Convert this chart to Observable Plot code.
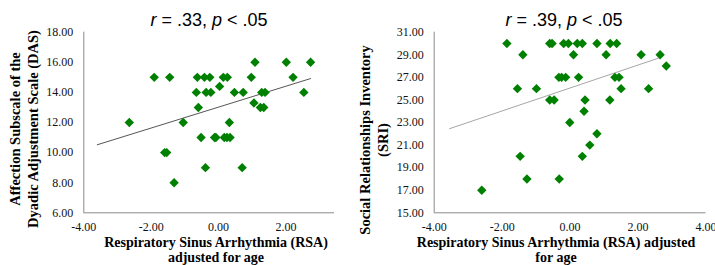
<!DOCTYPE html>
<html><head><meta charset="utf-8">
<script src="https://cdn.jsdelivr.net/npm/d3@7"></script>
<script src="https://cdn.jsdelivr.net/npm/@observablehq/plot@0.6"></script>
<style>
body{margin:0;background:#fff}
#wrap{display:flex;width:715px;height:265px;overflow:hidden;background:#fff}
</style>
</head><body><div id="wrap"></div>
<script>
// ---- tick values ----
const dasXTicks = [-4, -2, 0, 2];
const dasYTicks = [6, 8, 10, 12, 14, 16, 18];
const sriXTicks = [-4, -2, 0, 2, 4];
const sriYTicks = [15, 17, 19, 21, 23, 25, 27, 29, 31];

// ---- left panel: DAS affection subscale vs RSA ----
const dasRSA = [
  -1.91, -1.45, -0.63, -0.42, -0.26, 0.14, 0.26, 0.97, 2.21,
  1.08, 2.01, 2.73,
  0.03,
  -0.66, -0.37, -0.23, 0.47, 0.73, 1.28, 1.38, 2.53,
  1.05,
  -0.60, 1.24, 1.34,
  -2.65, -1.05, 0.32,
  -0.52, -0.12, -0.08, 0.17, 0.25, 0.34,
  -1.60, -1.54,
  -0.39, 0.70,
  -1.32
];
const dasScore = [
  15, 15, 15, 15, 15, 15, 15, 15, 15,
  16, 16, 16,
  14.4,
  14, 14, 14, 14, 14, 14, 14, 14,
  13.3,
  13, 13, 13,
  12, 12, 12,
  11, 11, 11, 11, 11, 11,
  10, 10,
  9, 9,
  8
];
const dasTrendRSA = [-3.6, 2.73];
const dasTrendScore = [10.52, 14.92];

// ---- right panel: SRI vs RSA ----
const sriRSA = [
  -1.86, -0.60, -0.53, -0.19, -0.05, 0.21, 0.36, 0.79, 1.18, 1.37,
  -1.39, 0.10, 1.06, 2.09, 2.65,
  2.83,
  -0.33, -0.25, -0.13, 0.25, 1.32, 1.44,
  -1.55, -0.99, 1.50, 2.31,
  -0.60, -0.47, 0.44, 1.17,
  0.41,
  -0.01,
  0.79,
  0.58,
  -1.47, 0.36,
  -1.27, -0.32,
  -2.60
];
const sriScore = [
  30, 30, 30, 30, 30, 30, 30, 30, 30, 30,
  29, 29, 29, 29, 29,
  28,
  27, 27, 27, 27, 27, 27,
  26, 26, 26, 26,
  25, 25, 25, 25,
  24,
  23,
  22,
  21,
  20, 20,
  18, 18,
  17
];
const sriTrendRSA = [-3.55, 2.6];
const sriTrendScore = [22.45, 28.7];

// ---- helpers ----
const diamond = {
  draw(ctx, size) {
    const h = Math.sqrt(size / Math.PI);
    ctx.moveTo(0, -h); ctx.lineTo(h, 0); ctx.lineTo(0, h); ctx.lineTo(-h, 0); ctx.closePath();
  }
};
const fmt = d => d.toFixed(2);

function panel(cfg) {
  const pts = cfg.xs.map((x, i) => ({x, y: cfg.ys[i]}));
  const trend = cfg.tx.map((x, i) => ({x, y: cfg.ty[i]}));
  const svg = Plot.plot({
    width: cfg.width, height: 265,
    marginLeft: cfg.ml, marginRight: cfg.mr, marginTop: 31.7, marginBottom: 52.7,
    style: {fontFamily: "Liberation Serif", fontSize: "12px", color: "#000", background: "#fff"},
    x: {domain: cfg.xDomain, ticks: cfg.xTicks, tickFormat: fmt, tickSize: 0, tickPadding: 10, label: null},
    y: {domain: cfg.yDomain, ticks: cfg.yTicks, tickFormat: fmt, tickSize: 0, tickPadding: 10.5, label: null},
    marks: [
      Plot.ruleY([cfg.yDomain[0]], {stroke: "#8a8a8a", strokeWidth: 1}),
      Plot.ruleX([cfg.xDomain[0]], {stroke: "#8a8a8a", strokeWidth: 1}),
      Plot.line(trend, {x: "x", y: "y", stroke: cfg.trendColor, strokeWidth: 1}),
      Plot.dot(pts, {x: "x", y: "y", symbol: diamond, r: 4.7, fill: "#008000", stroke: "none"})
    ]
  });
  const s = d3.select(svg);
  // force serif tick labels
  s.selectAll("text").attr("font-family", "Liberation Serif").style("font-family", "Liberation Serif")
    .attr("font-size", 12).style("font-size", "12px").attr("fill", "#111");
  s.selectAll("g").attr("font-family", "Liberation Serif").attr("font-size", 12);
  // title with italic r and p
  const t = s.append("text").attr("x", cfg.titleX).attr("y", 26).attr("text-anchor", "middle")
    .attr("font-family", "Liberation Sans").style("font-family", "Liberation Sans")
    .attr("font-size", 18).style("font-size", "18px").attr("fill", "#000")
    .style("white-space", "pre");
  t.append("tspan").attr("font-style", "italic").text("r");
  t.append("tspan").text(" = " + cfg.rText + ", ");
  t.append("tspan").attr("font-style", "italic").text("p");
  t.append("tspan").text(" < .05");
  // x axis title
  cfg.xTitle.forEach((line, i) => {
    s.append("text").attr("x", cfg.xTitleX).attr("y", 246.6 + i * 15.4).attr("text-anchor", "middle")
      .attr("font-family", "Liberation Serif").style("font-family", "Liberation Serif")
      .attr("font-weight", "bold").attr("font-size", 14).style("font-size", "14px")
      .attr("fill", "#000").text(line);
  });
  // y axis title
  cfg.yTitle.forEach((line, i) => {
    const x = cfg.yTitleX[i], y = cfg.yTitleY;
    s.append("text").attr("transform", `translate(${x},${y}) rotate(-90)`).attr("text-anchor", "middle")
      .attr("font-family", "Liberation Serif").style("font-family", "Liberation Serif")
      .attr("font-weight", "bold").attr("font-size", 14.5).style("font-size", "14.5px")
      .attr("fill", "#000").text(line);
  });
  return svg;
}

const wrap = document.getElementById("wrap");
wrap.appendChild(panel({
  width: 357, ml: 83.3, mr: 23,
  xs: dasRSA, ys: dasScore, tx: dasTrendRSA, ty: dasTrendScore,
  xDomain: [-4, 3.44], yDomain: [6, 18], xTicks: dasXTicks, yTicks: dasYTicks,
  trendColor: "#555", rText: ".33", titleX: 209,
  xTitle: ["Respiratory Sinus Arrhythmia (RSA)", "adjusted for age"], xTitleX: 216,
  yTitle: ["Affection Subscale of the", "Dyadic Adjustment Scale (DAS)"], yTitleX: [20, 38], yTitleY: 129
}));
wrap.appendChild(panel({
  width: 358, ml: 76.7, mr: 9.5,
  xs: sriRSA, ys: sriScore, tx: sriTrendRSA, ty: sriTrendScore,
  xDomain: [-4, 4], yDomain: [15, 31], xTicks: sriXTicks, yTicks: sriYTicks,
  trendColor: "#a6a6a6", rText: ".39", titleX: 207,
  xTitle: ["Respiratory Sinus Arrhythmia (RSA) adjusted", "for age"], xTitleX: 199,
  yTitle: ["Social Relationships Inventory", "(SRI)"], yTitleX: [13, 31], yTitleY: 140
}));
</script>
</body></html>
